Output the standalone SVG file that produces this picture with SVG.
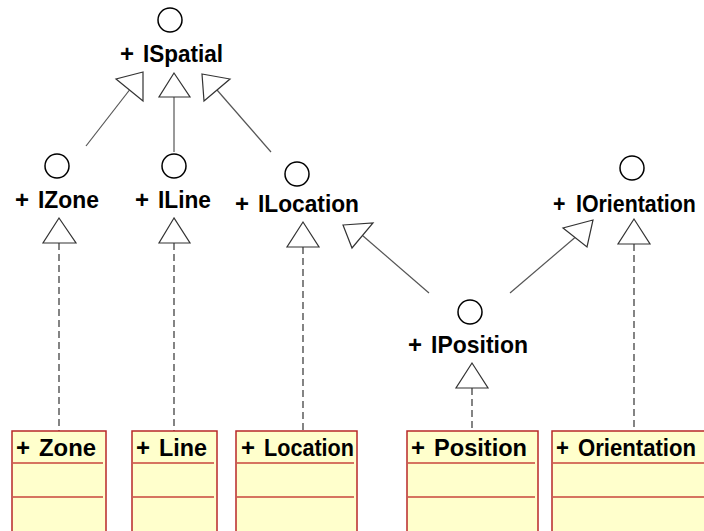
<svg xmlns="http://www.w3.org/2000/svg" width="704" height="531" viewBox="0 0 704 531">
  <style>
    .lbl { font-family: "Liberation Sans", Arial, sans-serif; font-weight: bold; font-size: 24px; fill: #000; }
    .iface { fill: #fff; stroke: #000; stroke-width: 1.5; }
    .gen { fill: none; stroke: #555; stroke-width: 1.2; }
    .real { fill: none; stroke: #333; stroke-width: 1.2; stroke-dasharray: 7 4; }
    .head { fill: #fff; stroke: #333; stroke-width: 1.2; stroke-linejoin: miter; }
    .cls { fill: #ffffcc; stroke: #b82828; stroke-width: 1.5; }
    .sep { stroke: #c8463c; stroke-width: 1.5; }
  </style>

  <rect width="704" height="531" fill="#fff"/>

  <!-- connectors: generalizations (solid) and realizations (dashed) -->
  <g id="connectors">
    <line class="gen" x1="86" y1="146" x2="129.5" y2="90"/>
    <polygon class="head" points="143,72 116,79 143,101"/>
    <line class="gen" x1="174" y1="152" x2="174" y2="97"/>
    <polygon class="head" points="174,73 159,97 190,97"/>
    <line class="gen" x1="271" y1="152" x2="217" y2="90"/>
    <polygon class="head" points="202,74 230,79 204,101"/>
    <line class="gen" x1="429" y1="293" x2="362.5" y2="235.5"/>
    <polygon class="head" points="343,225 373,223 352,248"/>
    <line class="gen" x1="510" y1="293" x2="575" y2="237.5"/>
    <polygon class="head" points="593,220 563,228 587,247"/>

    <line class="real" x1="59" y1="243" x2="59" y2="431"/>
    <polygon class="head" points="59,218 43,243 76,243"/>
    <line class="real" x1="174" y1="243" x2="174" y2="431"/>
    <polygon class="head" points="174,218 159,243 190,243"/>
    <line class="real" x1="303" y1="247" x2="303" y2="431"/>
    <polygon class="head" points="303,222 287,247 319,247"/>
    <line class="real" x1="472" y1="388" x2="472" y2="431"/>
    <polygon class="head" points="472,363 456,388 488,388"/>
    <line class="real" x1="634" y1="244" x2="634" y2="431"/>
    <polygon class="head" points="634,219 618,244 650,244"/>
  </g>

  <!-- interfaces -->
  <g id="ISpatial">
    <circle class="iface" cx="170" cy="20" r="12"/>
    <text class="lbl" y="62"><tspan x="120">+</tspan> <tspan x="143" textLength="80" lengthAdjust="spacingAndGlyphs">ISpatial</tspan></text>
  </g>
  <g id="IZone">
    <circle class="iface" cx="57" cy="166" r="12"/>
    <text class="lbl" y="208"><tspan x="15">+</tspan> <tspan x="38" textLength="61" lengthAdjust="spacingAndGlyphs">IZone</tspan></text>
  </g>
  <g id="ILine">
    <circle class="iface" cx="174" cy="166" r="12"/>
    <text class="lbl" y="208"><tspan x="135">+</tspan> <tspan x="158" textLength="53" lengthAdjust="spacingAndGlyphs">ILine</tspan></text>
  </g>
  <g id="ILocation">
    <circle class="iface" cx="297" cy="174" r="12"/>
    <text class="lbl" y="212"><tspan x="235">+</tspan> <tspan x="258" textLength="101" lengthAdjust="spacingAndGlyphs">ILocation</tspan></text>
  </g>
  <g id="IOrientation">
    <circle class="iface" cx="632" cy="168" r="12"/>
    <text class="lbl" transform="translate(553 212) scale(0.891 1)"><tspan x="0">+</tspan> <tspan x="25.8">IOrientation</tspan></text>
  </g>
  <g id="IPosition">
    <circle class="iface" cx="470" cy="312" r="12"/>
    <text class="lbl" y="353"><tspan x="408">+</tspan> <tspan x="431" textLength="97" lengthAdjust="spacingAndGlyphs">IPosition</tspan></text>
  </g>

  <!-- classes -->
  <g id="Zone">
    <rect class="cls" x="12" y="431" width="94" height="110"/>
    <line class="sep" x1="13" y1="463" x2="103" y2="463"/>
    <line class="sep" x1="13" y1="497" x2="103" y2="497"/>
    <text class="lbl" y="456"><tspan x="16">+</tspan> <tspan x="39" textLength="57" lengthAdjust="spacingAndGlyphs">Zone</tspan></text>
  </g>
  <g id="Line">
    <rect class="cls" x="132" y="431" width="85" height="110"/>
    <line class="sep" x1="133" y1="463" x2="214" y2="463"/>
    <line class="sep" x1="133" y1="497" x2="214" y2="497"/>
    <text class="lbl" y="456"><tspan x="136">+</tspan> <tspan x="159" textLength="48" lengthAdjust="spacingAndGlyphs">Line</tspan></text>
  </g>
  <g id="Location">
    <rect class="cls" x="236" y="431" width="121" height="110"/>
    <line class="sep" x1="237" y1="463" x2="354" y2="463"/>
    <line class="sep" x1="237" y1="497" x2="354" y2="497"/>
    <text class="lbl" y="456"><tspan x="241">+</tspan> <tspan x="264" textLength="90" lengthAdjust="spacingAndGlyphs">Location</tspan></text>
  </g>
  <g id="Position">
    <rect class="cls" x="407" y="431" width="131" height="110"/>
    <line class="sep" x1="408" y1="463" x2="535" y2="463"/>
    <line class="sep" x1="408" y1="497" x2="535" y2="497"/>
    <text class="lbl" y="456"><tspan x="411">+</tspan> <tspan x="434" textLength="93" lengthAdjust="spacingAndGlyphs">Position</tspan></text>
  </g>
  <g id="Orientation">
    <rect class="cls" x="552" y="431" width="160" height="110"/>
    <line class="sep" x1="553" y1="463" x2="712" y2="463"/>
    <line class="sep" x1="553" y1="497" x2="712" y2="497"/>
    <text class="lbl" transform="translate(556 456) scale(0.922 1)"><tspan x="0">+</tspan> <tspan x="23.9">Orientation</tspan></text>
  </g>
</svg>
